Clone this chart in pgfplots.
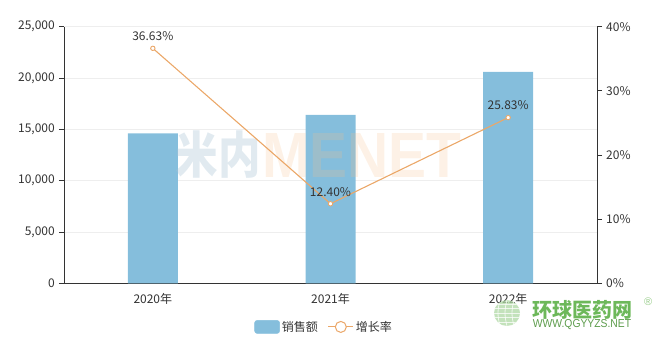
\documentclass[border=0pt]{standalone}
\usepackage{pgfplots}
\pgfplotsset{compat=1.18}
\usepackage{fontspec}
\setmainfont{Noto Sans CJK SC}
\newfontfamily\wmfont{Liberation Sans}
\definecolor{barblue}{HTML}{85BEDC}
\definecolor{lineorange}{HTML}{EBA768}
\definecolor{txt}{HTML}{333333}
\definecolor{gridc}{HTML}{EEEEEE}
\definecolor{logogreen}{HTML}{6DB85A}
\definecolor{wmblue}{HTML}{A9C3D4}
\definecolor{wmorange}{HTML}{F4C08E}
\begin{document}
\fontsize{12bp}{14bp}\selectfont
\begin{tikzpicture}
\useasboundingbox (0,0) rectangle (661bp,352bp);
\begin{axis}[
  at={(64bp,68.7bp)}, anchor=south west,
  scale only axis, width=533bp, height=256.6bp,
  xmin=-0.5, xmax=2.5, ymin=0, ymax=25000,
  axis y line*=left, axis x line*=bottom,
  axis line style={txt, line width=0.8bp},
  xtick={0,1,2}, xticklabels={2020年,2021年,2022年},
  major x tick style={draw=none},
  extra x ticks={-0.5,0.5,1.5,2.5}, extra x tick labels={},
  extra x tick style={tick style={txt, line width=0.8bp}, major tick length=5bp, tick align=outside, xmajorgrids=false},
  ytick={0,5000,...,25000},
  scaled y ticks=false,
  yticklabel style={/pgf/number format/.cd, fixed, 1000 sep={,}, assume math mode=true},
  ymajorgrids, grid style={gridc, line width=0.8bp},
  tick align=outside, major tick length=5bp,
  tick style={txt, line width=0.8bp},
  ticklabel style={text=txt, font=\fontsize{12bp}{14bp}\selectfont},
  xticklabel style={yshift=-1bp},
  clip=false,
]
\addplot[ybar, bar width=50bp, fill=barblue, draw=none] coordinates {(0,14610) (1,16400) (2,20600)};
\end{axis}
% watermark
\node[text=wmblue, opacity=0.35, font=\fontsize{50bp}{52bp}\selectfont\bfseries, xscale=0.85] at (218bp,197bp) {米内};
\node[text=wmorange, opacity=0.22, font=\wmfont\fontsize{64bp}{66bp}\selectfont\bfseries, xscale=0.89] at (362bp,197bp) {MENET};
\begin{axis}[
  at={(64bp,68.7bp)}, anchor=south west,
  scale only axis, width=533bp, height=256.6bp,
  xmin=-0.5, xmax=2.5, ymin=0, ymax=40,
  axis y line*=right, axis x line=none,
  axis line style={txt, line width=0.8bp},
  ytick={0,10,...,40},
  yticklabel={\pgfmathprintnumber{\tick}\%},
  yticklabel style={/pgf/number format/assume math mode=true},
  tick align=outside, major tick length=5bp,
  tick style={txt, line width=0.8bp},
  ticklabel style={text=txt, font=\fontsize{12bp}{14bp}\selectfont},
  clip=false,
  legend style={at={(0.488,-0.17)}, anchor=center, draw=none, fill=none, legend columns=2,
    font=\fontsize{12bp}{14bp}\selectfont, text=txt,
    /tikz/every even column/.append style={column sep=8bp}},
]
\addlegendimage{legend image code/.code={\fill[barblue, rounded corners=2.5bp] (0bp,-6.5bp) rectangle (25bp,6.5bp);}}
\addlegendentry{销售额}
\addplot[lineorange, line width=1.1bp, mark=*, mark size=2.2bp, mark options={fill=white, draw=lineorange, line width=0.9bp},
  nodes near coords={\pgfmathprintnumber[fixed,fixed zerofill,precision=2]{\pgfplotspointmeta}\%},
  point meta=explicit,
  every node near coord/.append style={text=txt, font=\fontsize{12bp}{14bp}\selectfont, yshift=3bp, /pgf/number format/assume math mode=true},
  legend image code/.code={\draw[lineorange, line width=1bp] (0bp,0bp) -- (25bp,0bp); \filldraw[fill=white, draw=lineorange, line width=1bp] (12.5bp,0bp) circle (5.5bp);}
] coordinates {(0,36.63) [36.63] (1,12.40) [12.40] (2,25.83) [25.83]};
\addlegendentry{增长率}
\end{axis}
% logo
\begin{scope}[opacity=0.75]
\fill[logogreen!55!white] (507bp,39bp) circle (13bp);
\begin{scope}
\clip (507bp,39bp) circle (13bp);
\foreach \k in {-9,-4.5,0,4.5,9} {\draw[white, line width=0.8bp] (494bp,39bp+\k bp) -- (520bp,39bp+\k bp);}
\foreach \k in {-7,0,7} {\draw[white, line width=0.8bp] (507bp+\k bp,26bp) to[bend left=15] (507bp+\k bp,52bp);}
\end{scope}
\end{scope}
\node[text=logogreen, font=\fontsize{20bp}{22bp}\selectfont\bfseries, anchor=center] at (582bp,42bp) {环球医药网};
\node[text=logogreen!70!white, font=\wmfont\fontsize{11bp}{12bp}\selectfont, anchor=west] at (640bp,50bp) {®};
\node[text=logogreen!85!black, font=\wmfont\fontsize{11.5bp}{12bp}\selectfont, anchor=center, xscale=0.9] at (582bp,27bp) {WWW.QGYYZS.NET};
\end{tikzpicture}
\end{document}
